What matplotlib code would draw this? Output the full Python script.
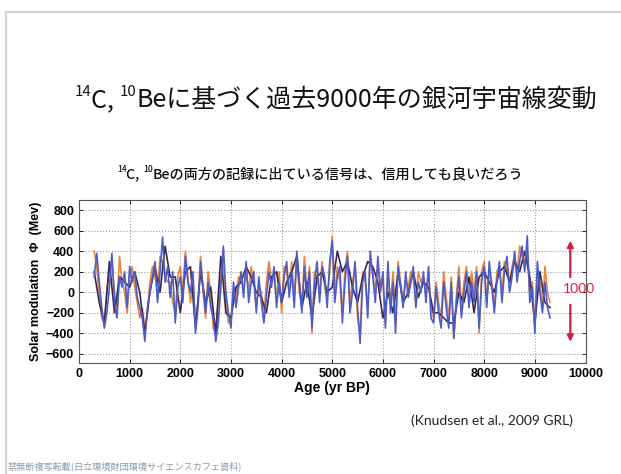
import numpy as np
import matplotlib
matplotlib.use("Agg")
import matplotlib.pyplot as plt
from matplotlib.lines import Line2D

plt.rcParams['font.family'] = ['Liberation Sans', 'Noto Sans CJK JP', 'DejaVu Sans']

# Solar modulation reconstructions (MeV), 300-9300 yr BP
age_fine = list(range(300, 9301, 50))
phi_be10 = [
    150, 380, 100, -150, -350, -200, 50, 380, -100, -250,
    150, 50, 200, -150, 250, 100, 200, -50, -150, -250,
    -480, -150, 0, 150, 300, -100, 200, 540, 100, 250,
    -50, 200, -300, 50, 150, -100, 350, 100, 0, 200,
    -400, -150, 300, 50, -200, 100, -150, -250, -480, -300,
    50, 450, 0, -200, -350, 100, -150, 50, 200, -50,
    300, -100, 100, 200, -200, 150, -100, -300, -50, 200,
    50, 250, -150, 100, -100, 150, 300, -50, 200, -150,
    400, 100, -200, 250, -50, 200, -350, 100, 300, -100,
    250, 150, -150, 300, 500, -100, 150, 250, -300, 100,
    350, -200, 0, 300, -150, -500, 100, 200, -250, 400,
    150, -100, 350, 0, 200, -350, 300, -200, 100, -400,
    250, 50, -150, 200, -50, 100, 250, -150, 100, 0,
    200, -100, 250, -250, -300, 50, -200, -350, 100, -150,
    -350, 100, -450, -100, 150, -250, 0, 200, -150, 100,
    -100, 200, -350, 100, 250, -150, 300, 50, -200, 100,
    300, -100, 200, 350, 0, 150, 400, 100, 300, 450,
    200, 550, -100, 50, -400, 300, 0, -200, 100, -150,
    -250,
]
phi_c14 = [
    400, 250, -50, -250, -300, 0, 200, 300, 0, -200,
    350, 100, 0, -200, 150, 250, 50, -100, -250, -150,
    -350, -200, 100, 250, 150, 0, 350, 300, 150, 100,
    100, -100, -200, 150, 250, 0, 400, 150, -100, 100,
    -300, -100, 350, 0, -250, 200, 0, -350, -400, -100,
    150, 300, -100, -300, -250, 0, -50, 150, 100, 50,
    200, 0, 250, 100, -150, 50, 0, -250, 100, 300,
    100, 150, -50, 200, -200, 250, 200, 0, 300, -50,
    300, 0, -150, 350, 0, 250, -400, 200, 150, 0,
    300, 50, -50, 200, 550, 0, 250, 100, -200, 200,
    400, -100, 100, 250, -250, -400, 200, 100, -150, 300,
    200, 0, 250, 100, 100, -300, 200, -100, 200, -300,
    300, 100, -100, 100, 50, 200, 150, -100, 200, 100,
    150, 0, 200, -150, -250, 100, -100, -250, 200, -50,
    -250, 150, -450, -50, 250, -150, 100, 250, -100, 200,
    0, 250, -400, 200, 300, -100, 200, 100, -150, 200,
    250, 0, 300, 200, 100, 250, 350, 200, 450, 350,
    300, 400, 0, 100, -350, 200, 100, -150, 250, 0,
    -100,
]
age_coarse = list(range(300, 9301, 100))
phi_composite = [
    200, -100, -300, 300, -200, 150, 100, 50, 200, 0,
    -400, 0, 250, 0, 450, 150, 150, -200, 200, 250,
    -350, 200, -100, 50, -400, 350, -200, -250, 50, 100,
    250, 150, 0, -50, -200, 150, 200, -100, 100, 200,
    350, -150, 100, -250, 150, 200, 0, 50, 400, 200,
    300, 50, -100, 150, 300, 250, 100, -250, 0, -200,
    200, -100, 0, 200, -50, 100, 50, -200, -200, -250,
    -300, -300, 0, -100, 150, -200, 150, 200, 100, 0,
    200, 250, 100, 300, 200, 400, 150, -300, 200, -100,
    -150,
]

x_ticks = list(range(0, 10001, 1000))
y_ticks = list(range(-600, 801, 200))

W, H = 621, 474
fig = plt.figure(figsize=(W / 100, H / 100), dpi=100)
fig.patch.set_facecolor('white')
renderer = fig.canvas.get_renderer()

CJK = ['Noto Sans CJK JP', 'DejaVu Sans']


def rich_line(pieces, cx, cy, size, weight='normal', color='#111111'):
    """Draw a line of text made of (string, is_superscript) pieces, centred at (cx, cy) px."""
    arts = []
    for s, sup in pieces:
        fs = size * 0.6 if sup else size
        t = fig.text(0, 0, s, fontsize=fs, family=CJK, weight=weight,
                     color=color, ha='left', va='baseline')
        arts.append((t, sup))
    widths = [t.get_window_extent(renderer).width for t, _ in arts]
    x = cx - sum(widths) / 2
    base = H - cy - size * 100 / 72 * 0.36
    for (t, sup), w in zip(arts, widths):
        y = base + (size * 100 / 72 * 0.42 if sup else 0)
        t.set_position((x / W, y / H))
        x += w


# slide frame
fig.add_artist(Line2D([6 / W, 1.0], [1 - 12 / H, 1 - 12 / H], color='#d4d4d4', lw=1.6))
fig.add_artist(Line2D([6 / W, 6 / W], [0, 1 - 12 / H], color='#d4d4d4', lw=1.6))

rich_line([('14', True), ('C, ', False), ('10', True),
           ('Beに基づく過去9000年の銀河宇宙線変動', False)],
          336, 98, 18)
rich_line([('14', True), ('C, ', False), ('10', True),
           ('Beの両方の記録に出ている信号は、信用しても良いだろう', False)],
          320, 173, 10.2, weight='medium')

ax = fig.add_axes([79 / W, 1 - 363 / H, (585.5 - 79) / W, (363 - 200) / H])
ax.plot(age_fine, phi_c14, color='#e8843e', lw=1.2)
ax.plot(age_coarse, phi_composite, color='#3a2850', lw=1.2)
ax.plot(age_fine, phi_be10, color='#4c5dc8', lw=1.2)

ax.set_xlim(0, 10000)
ax.set_ylim(-690, 900)
ax.set_xticks(x_ticks)
ax.set_yticks(y_ticks)
ax.grid(True, linestyle=':', color='#9a9a9a', lw=0.8)
ax.tick_params(direction='in', top=True, right=True, length=3, labelsize=9, width=0.6)
for lab in ax.get_xticklabels() + ax.get_yticklabels():
    lab.set_fontweight('bold')
for s in ax.spines.values():
    s.set_color('#555555')
    s.set_linewidth(0.8)
ax.set_xlabel('Age (yr BP)', fontsize=10, fontweight='bold', labelpad=1)
ax.set_ylabel('Solar modulation  Φ  (Mev)', fontsize=9, fontweight='bold', labelpad=3)

# amplitude marker
red = '#d42040'
ax.annotate('', xy=(9700, 530), xytext=(9700, 120),
            arrowprops=dict(arrowstyle='-|>', color=red, lw=1.6, mutation_scale=9))
ax.annotate('', xy=(9700, -510), xytext=(9700, -95),
            arrowprops=dict(arrowstyle='-|>', color=red, lw=1.6, mutation_scale=9))
ax.text(9870, 30, '1000', color=red, fontsize=10, ha='center', va='center',
        family=['Lato', 'DejaVu Sans'])

fig.text(492 / W, 1 - 421 / H, '(Knudsen et al., 2009 GRL)', ha='center', va='center',
         fontsize=10, color='#222222', family=['Lato', 'DejaVu Sans'])
fig.text(8 / W, 1 - 466 / H, '禁無断複写転載(日立環境財団環境サイエンスカフェ資料)',
         ha='left', va='center', fontsize=6.6, color='#8a9aa8', family=CJK)

fig.savefig('out.png', dpi=100, facecolor='white')
